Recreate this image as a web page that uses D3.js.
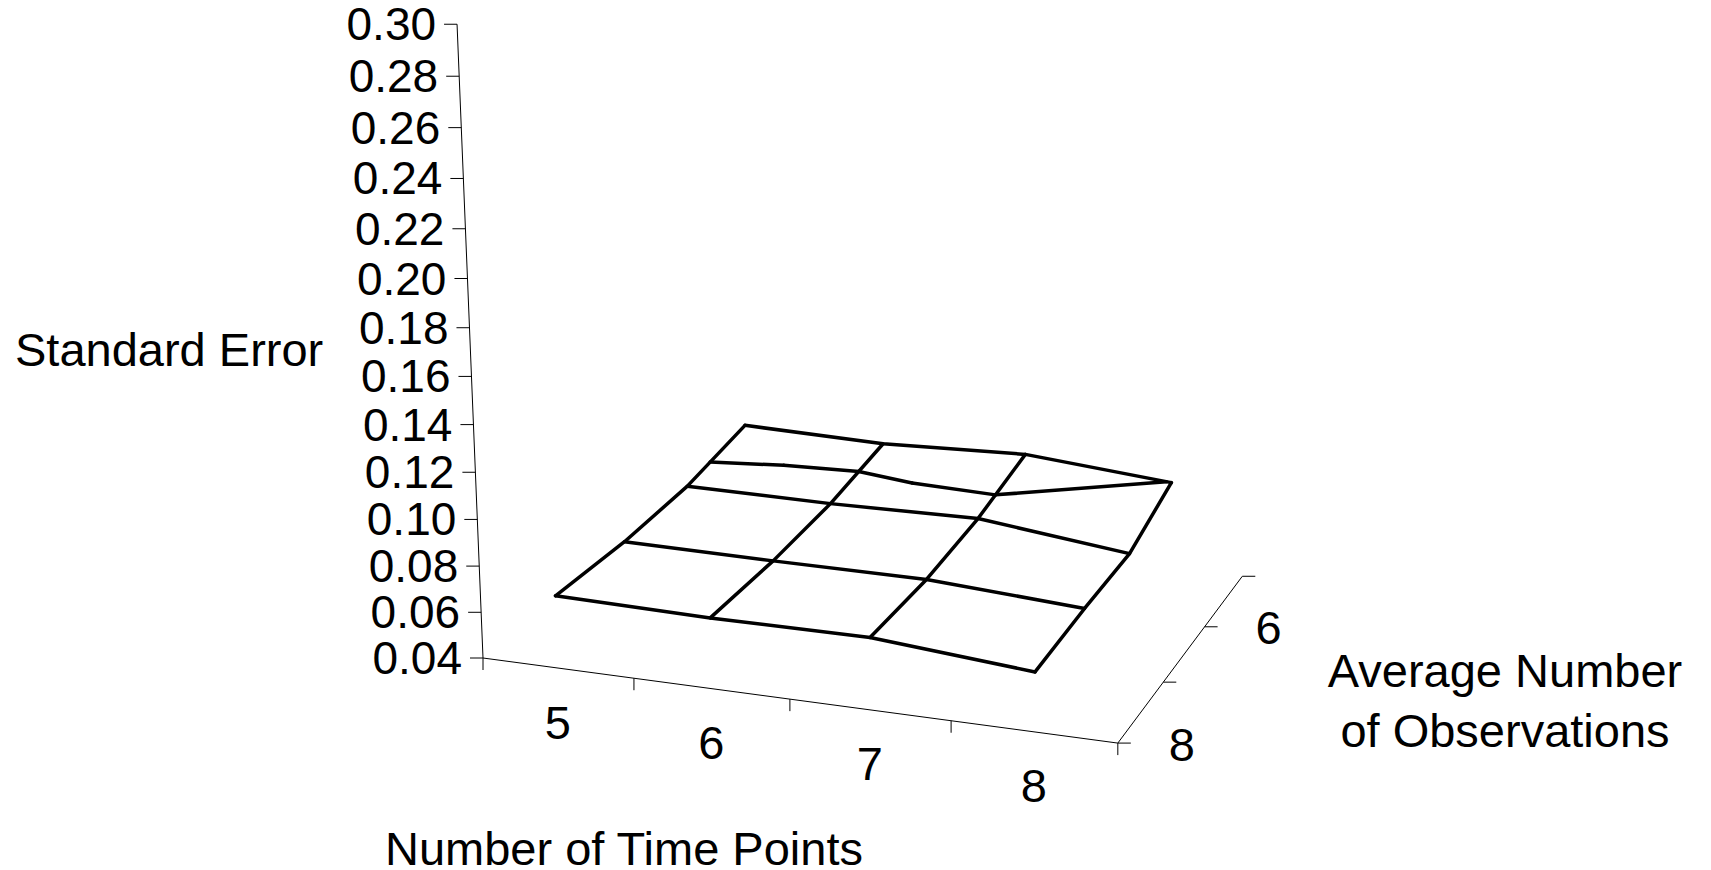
<!DOCTYPE html>
<html>
<head>
<meta charset="utf-8">
<script src="https://cdn.jsdelivr.net/npm/d3@7"></script>
<style>
  html, body { margin: 0; padding: 0; background: #fff; }
  svg text { font-family: "Liberation Sans", Arial, sans-serif; font-size: 47px; fill: #000; }
</style>
</head>
<body>
<svg id="chart" width="1711" height="870"></svg>
<script>
// categories along the front (x) and the depth axis (front to back)
var timePoints = ["5", "6", "7", "8"];
var observations = ["8", "7", "6", "5"];
var valueTicks = [0.04, 0.06, 0.08, 0.10, 0.12, 0.14, 0.16, 0.18, 0.20, 0.22, 0.24, 0.26, 0.28, 0.30];

// standard error per number of observations, one value per time point
var seObs8 = [0.0713, 0.0702, 0.0705, 0.0649];
var seObs7 = [0.0725, 0.0719, 0.0718, 0.0675];
var seObs6 = [0.0766, 0.0760, 0.0768, 0.0688];
var seObs5 = [0.0854, 0.0836, 0.0857, 0.0798];
var surface = [seObs8, seObs7, seObs6, seObs5];

var svg = d3.select("#chart");

// world scales (box size in px at the front corner)
var xScale = d3.scaleBand().domain(timePoints).range([0, 657]);
var zScale = d3.scalePoint().domain(observations).range([0, 504]);
var yScale = d3.scaleLinear().domain([0.04, 0.30]).range([0, 632]);
var bw = xScale.bandwidth();

// simple perspective camera
var rad = Math.PI / 180;
var view = { turn: 19.2, tilt: 19.7, roll: 0.29, focal: 3171, cx: 888, cy: 601, shiftX: -405, shiftY: 57 };

function project(wx, wy, wz) {
  var ct = Math.cos(view.turn * rad), st = Math.sin(view.turn * rad);
  var cp = Math.cos(view.tilt * rad), sp = Math.sin(view.tilt * rad);
  var cr = Math.cos(view.roll * rad), sr = Math.sin(view.roll * rad);
  var x1 = wx * ct + wz * st, z1 = -wx * st + wz * ct;
  var y2 = -wy * cp - z1 * sp, z2 = z1 * cp - wy * sp;
  var x3 = x1 * cr - y2 * sr, y3 = x1 * sr + y2 * cr;
  var d = z2 + view.focal;
  return [view.cx + view.focal * (x3 + view.shiftX) / d,
          view.cy + view.focal * (y3 + view.shiftY) / d];
}

function toScreen(p) { return project(p.x, yScale(p.v), p.z); }

var line = d3.line();
var xMax = xScale.range()[1];
var zMax = zScale.range()[1];

// grid of surface points
var grid = observations.map(function(o, j) {
  return timePoints.map(function(t, i) {
    return { x: xScale(t) + bw / 2, z: zScale(o), v: surface[j][i] };
  });
});

var axes = svg.append("g").attr("stroke", "#000").attr("stroke-width", 1).attr("fill", "none");

// vertical axis
axes.append("path")
    .attr("d", line([project(0, yScale(0.04), 0), project(0, yScale(0.30), 0)]));
axes.selectAll("path.ytick")
    .data(valueTicks)
  .enter().append("path")
    .attr("class", "ytick")
    .attr("d", function(d) {
      var p = project(0, yScale(d), 0);
      return line([[p[0] - 13, p[1]], p]);
    });
svg.selectAll("text.ylabel")
    .data(valueTicks)
  .enter().append("text")
    .attr("class", "ylabel")
    .attr("x", function(d) { return project(0, yScale(d), 0)[0] - 21; })
    .attr("y", function(d) { return project(0, yScale(d), 0)[1]; })
    .attr("text-anchor", "end")
    .attr("dominant-baseline", "central")
    .style("font-size", "46px")
    .text(d3.format(".2f"));

// front (time points) axis
axes.append("path")
    .attr("d", line([project(0, 0, 0), project(xMax, 0, 0)]));
axes.selectAll("path.xtick")
    .data(d3.range(timePoints.length + 1))
  .enter().append("path")
    .attr("class", "xtick")
    .attr("d", function(i) {
      var p = project(i * xScale.step(), 0, 0);
      return line([p, [p[0], p[1] + 12]]);
    });
svg.selectAll("text.xlabel")
    .data(timePoints)
  .enter().append("text")
    .attr("class", "xlabel")
    .attr("x", function(d) { return project(xScale(d) + bw / 2, 0, 0)[0]; })
    .attr("y", function(d) { return project(xScale(d) + bw / 2, 0, 0)[1] + 54; })
    .attr("text-anchor", "middle")
    .attr("dominant-baseline", "central")
    .text(function(d) { return d; });

// depth (observations) axis
axes.append("path")
    .attr("d", line([project(xMax, 0, 0), project(xMax, 0, zMax)]));
axes.selectAll("path.ztick")
    .data(observations)
  .enter().append("path")
    .attr("class", "ztick")
    .attr("d", function(d) {
      var p = project(xMax, 0, zScale(d));
      return line([p, [p[0] + 13, p[1]]]);
    });
svg.selectAll("text.zlabel")
    .data(observations.filter(function(d, i) { return i % 2 === 0; }))
  .enter().append("text")
    .attr("class", "zlabel")
    .attr("x", function(d) { return project(xMax, 0, zScale(d))[0] + 64; })
    .attr("y", function(d) { return project(xMax, 0, zScale(d))[1] + 1; })
    .attr("text-anchor", "middle")
    .attr("dominant-baseline", "central")
    .text(function(d) { return d; });

// surface wireframe
var mesh = svg.append("g")
    .attr("fill", "none")
    .attr("stroke", "#000")
    .attr("stroke-width", 3.5)
    .attr("stroke-linejoin", "round")
    .attr("stroke-linecap", "round");

mesh.selectAll("path.row")
    .data(grid)
  .enter().append("path")
    .attr("class", "row")
    .attr("d", function(row) { return line(row.map(toScreen)); });

mesh.selectAll("path.col")
    .data(timePoints.map(function(t, i) { return grid.map(function(row) { return row[i]; }); }))
  .enter().append("path")
    .attr("class", "col")
    .attr("d", function(col) { return line(col.map(toScreen)); });

// band boundaries where the surface crosses a major unit (cells split in two triangles)
var allValues = d3.merge(surface);
var levels = valueTicks.filter(function(l) { return l > d3.min(allValues) && l < d3.max(allValues); });
var segments = [];
levels.forEach(function(level) {
  for (var j = 0; j < grid.length - 1; j++) {
    for (var i = 0; i < timePoints.length - 1; i++) {
      var a = grid[j][i], b = grid[j][i + 1], c = grid[j + 1][i + 1], e = grid[j + 1][i];
      [[a, b, c], [a, c, e]].forEach(function(tri) {
        var hits = [];
        for (var k = 0; k < 3; k++) {
          var p = tri[k], q = tri[(k + 1) % 3];
          if ((p.v - level) * (q.v - level) < 0) {
            var t = (level - p.v) / (q.v - p.v);
            hits.push({ x: p.x + t * (q.x - p.x), z: p.z + t * (q.z - p.z), v: level });
          }
        }
        if (hits.length === 2) segments.push(hits);
      });
    }
  }
});

mesh.selectAll("path.band")
    .data(segments)
  .enter().append("path")
    .attr("class", "band")
    .attr("d", function(s) { return line(s.map(toScreen)); });

// axis titles
svg.append("text")
    .attr("x", 15)
    .attr("y", 366)
    .text("Standard Error");

svg.append("text")
    .attr("x", 624)
    .attr("y", 865)
    .attr("text-anchor", "middle")
    .text("Number of Time Points");

var depthTitle = svg.append("text")
    .attr("text-anchor", "middle");
depthTitle.append("tspan").attr("x", 1505).attr("y", 687).text("Average Number");
depthTitle.append("tspan").attr("x", 1505).attr("y", 747).text("of Observations");
</script>
</body>
</html>
